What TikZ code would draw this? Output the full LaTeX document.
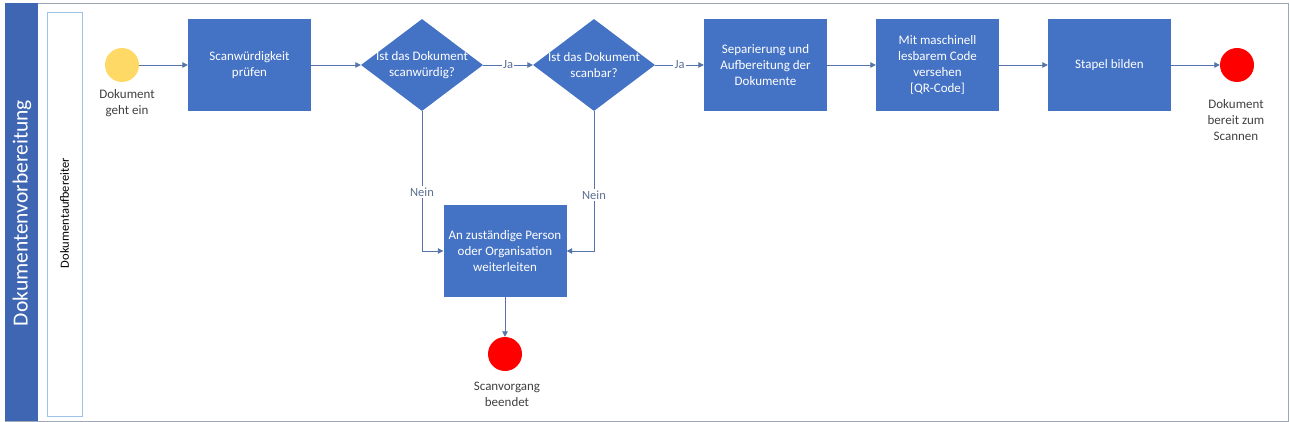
\documentclass[tikz,border=0pt]{standalone}
\usepackage{fontspec}
\setmainfont{Carlito}
\usetikzlibrary{shapes.geometric,arrows.meta}
\definecolor{boxblue}{RGB}{68,114,196}
\definecolor{bandblue}{RGB}{62,102,178}
\definecolor{linec}{RGB}{84,115,170}
\definecolor{lblc}{RGB}{92,112,148}
\definecolor{txtc}{RGB}{64,64,64}
\definecolor{startc}{RGB}{255,217,102}
\definecolor{endc}{RGB}{255,0,0}
\definecolor{lanec}{RGB}{157,195,230}
\definecolor{poolc}{RGB}{160,168,184}
\begin{document}
\begin{tikzpicture}[x=1pt,y=-1pt,
  font=\fontsize{13}{16}\selectfont,
  task/.style={rectangle, fill=boxblue, minimum width=123pt, minimum height=92pt, inner sep=0pt, text=white, align=center},
  decision/.style={diamond, fill=boxblue, minimum width=122pt, minimum height=92pt, inner sep=0pt},
  dtext/.style={text=white, align=center, inner sep=0pt},
  evt/.style={circle, minimum size=34pt, inner sep=0pt},
  evlabel/.style={text=txtc, align=center, inner sep=0pt},
  flow/.style={draw=linec, line width=0.9pt, -{Triangle[width=5.5pt,length=5.5pt]}},
  flowlabel/.style={fill=white, text=lblc, inner sep=1.5pt, font=\fontsize{12.5}{14}\selectfont},
]
\useasboundingbox (0,0) rectangle (1290,422);
% pool and lane
\draw[poolc, line width=0.8pt] (5,3) rectangle (1288,421);
\fill[bandblue] (5,3) rectangle (38,421);
\draw[lanec, line width=0.9pt] (47,12) rectangle (82,416);
\node[rotate=90, text=white, inner sep=0pt, font=\fontsize{21.5}{24}\selectfont] (pooltitle) at (22,213) {Dokumentenvorbereitung};
\node[rotate=90, text=black, inner sep=0pt, font=\fontsize{12.5}{14}\selectfont] (lanetitle) at (64.5,213) {Dokumentaufbereiter};
% events
\node[evt, fill=startc] (start) at (122,65) {};
\node[evlabel] (startlbl) at (127,103) {Dokument\\geht ein};
\node[evt, fill=endc] (end1) at (1237,65) {};
\node[evlabel] (end1lbl) at (1236,120.5) {Dokument\\bereit zum\\Scannen};
\node[evt, fill=endc] (end2) at (505,354) {};
\node[evlabel] (end2lbl) at (507,394.5) {Scanvorgang\\beendet};
% tasks
\node[task] (t1) at (249.5,65) {Scanwürdigkeit\\prüfen};
\node[task] (t2) at (765.5,65) {Separierung und\\Aufbereitung der\\Dokumente};
\node[task] (t3) at (937.5,65) {Mit maschinell\\lesbarem Code\\versehen\\{[QR-Code]}};
\node[task] (t4) at (1109.5,65) {Stapel bilden};
\node[task] (t5) at (505,251) {An zuständige Person\\oder Organisation\\weiterleiten};
% decisions
\node[decision] (d1) at (422,65) {};
\node[dtext] (d1txt) at (422,65) {Ist das Dokument\\scanwürdig?};
\node[decision] (d2) at (594,65) {};
\node[dtext] (d2txt) at (594,65) {Ist das Dokument\\scanbar?};
% flows
\draw[flow] (start) -- (t1);
\draw[flow] (t1) -- (d1);
\draw[flow] (d1) -- node[flowlabel] (ja1) {Ja} (d2);
\draw[flow] (d2) -- node[flowlabel] (ja2) {Ja} (t2);
\draw[flow] (t2) -- (t3);
\draw[flow] (t3) -- (t4);
\draw[flow] (t4) -- (end1);
\draw[flow] (d1) |- node[flowlabel, pos=0.29] (nein1) {Nein} (t5);
\draw[flow] (d2) |- node[flowlabel, pos=0.30] (nein2) {Nein} (t5);
\draw[flow] (t5) -- (end2);
\end{tikzpicture}
\end{document}
